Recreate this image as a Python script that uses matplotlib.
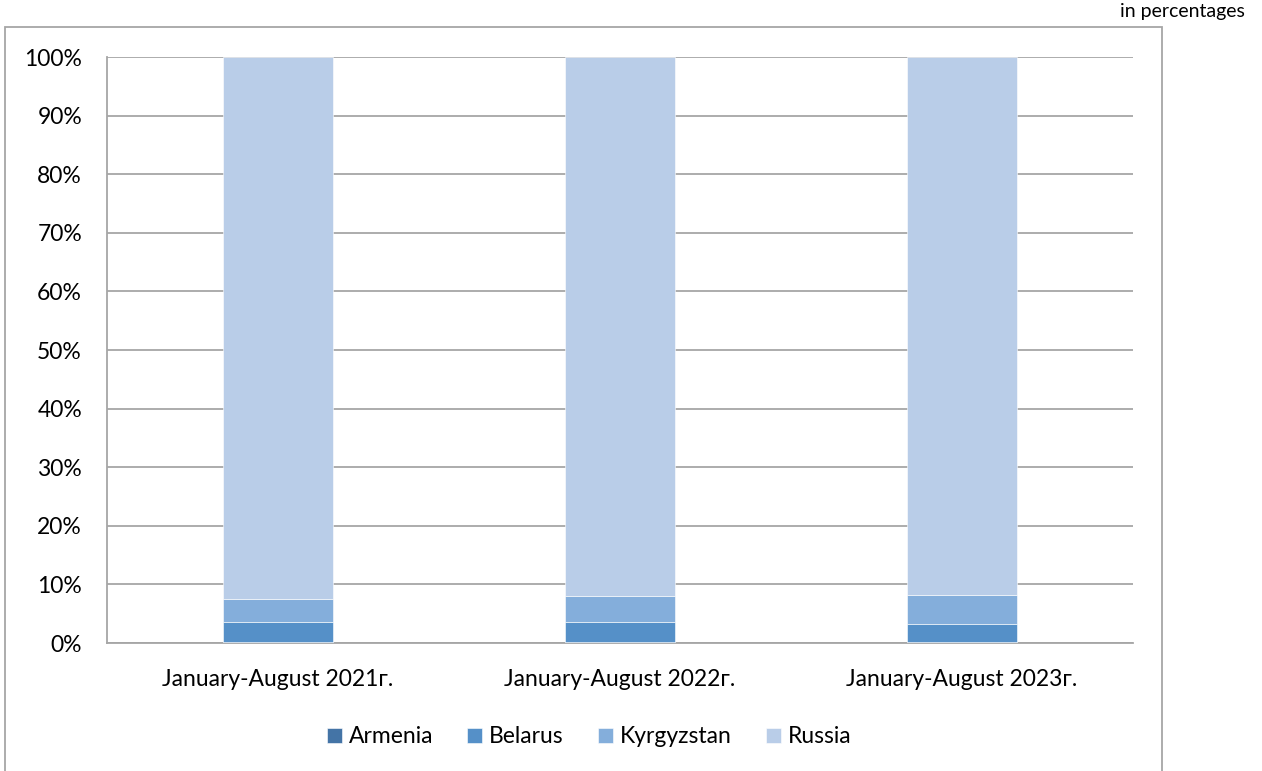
import matplotlib
matplotlib.use("Agg")
import matplotlib.pyplot as plt
from matplotlib.patches import Rectangle
from matplotlib.ticker import PercentFormatter

plt.rcParams['font.family'] = ['Lato', 'DejaVu Sans']

periods = ['January-August 2021г.', 'January-August 2022г.', 'January-August 2023г.']
armenia = [0.1, 0.2, 0.1]
belarus = [3.5, 3.4, 3.2]
kyrgyzstan = [3.9, 4.5, 4.9]
russia = [92.5, 91.9, 91.8]

series = [('Armenia', armenia, '#4474A6'),
          ('Belarus', belarus, '#5590C8'),
          ('Kyrgyzstan', kyrgyzstan, '#84AEDB'),
          ('Russia', russia, '#B9CDE8')]

fig = plt.figure(figsize=(12.62, 7.71), dpi=100)
ax = fig.add_axes([0.0848, 0.166, 0.813, 0.760])

x = range(len(periods))
bottom = [0.0] * len(periods)
for name, vals, col in series:
    ax.bar(x, vals, bottom=bottom, width=0.32, color=col, label=name,
           edgecolor='white', linewidth=0.4, zorder=3)
    bottom = [b + v for b, v in zip(bottom, vals)]

ax.set_xlim(-0.5, 2.5)
ax.set_ylim(0, 100)
ax.set_yticks(range(0, 101, 10))
ax.yaxis.set_major_formatter(PercentFormatter(decimals=0))
ax.set_xticks(list(x))
ax.set_xticklabels(periods)
ax.tick_params(axis='both', length=0, labelsize=16.5, colors='black')
ax.tick_params(axis='y', pad=18)
ax.tick_params(axis='x', pad=19)
ax.grid(axis='y', color='#A6A6A6', linewidth=1.3, zorder=0)
for s in ['top', 'right']:
    ax.spines[s].set_visible(False)
ax.spines['left'].set_color('#A6A6A6')
ax.spines['bottom'].set_color('#A6A6A6')
ax.spines['left'].set_linewidth(1.3)
ax.spines['bottom'].set_linewidth(1.3)

ax.legend(loc='center', bbox_to_anchor=(0.47, -0.16), ncol=4, frameon=False,
          fontsize=16.5, handlelength=0.65, handleheight=0.65, handletextpad=0.3,
          columnspacing=1.5)

frame = Rectangle((5 / 1262, -0.01), 1157 / 1262, 1 - 27 / 771 + 0.01,
                  transform=fig.transFigure, fill=False, edgecolor='#A6A6A6',
                  linewidth=1.3, clip_on=False)
fig.patches.append(frame)

fig.text(1245 / 1262, 1 - 12 / 771, 'in percentages', ha='right', va='center',
         fontsize=14)

fig.savefig('out.png', dpi=100)
